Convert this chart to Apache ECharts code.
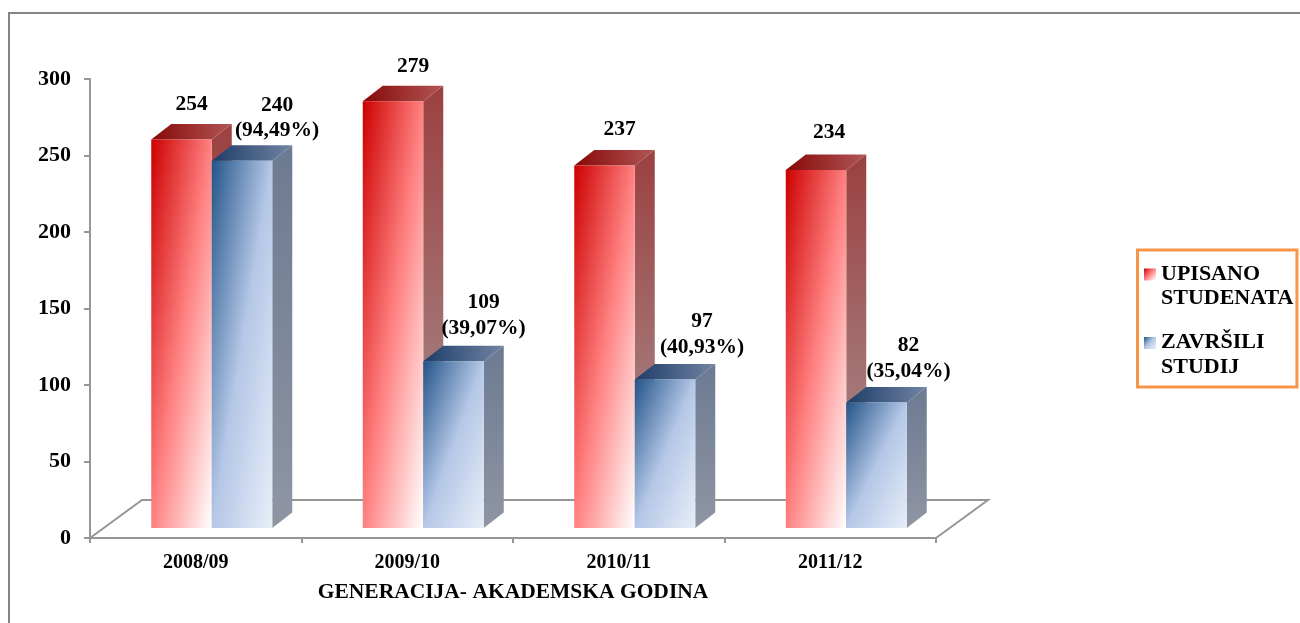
<!DOCTYPE html>
<html><head><meta charset="utf-8">
<style>html,body{margin:0;padding:0;background:#fff}#c{width:1300px;height:623px}</style>
<script src="https://cdn.jsdelivr.net/npm/echarts@6/dist/echarts.min.js"></script>
</head><body><div id="c"></div>
<script>
const categories = ['2008/09','2009/10','2010/11','2011/12'];
const upisano = [254,279,237,234];
const zavrsili = [240,109,97,82];
const zavrsiliPct = ['94,49%','39,07%','40,93%','35,04%'];
const yTicks = {min:0,max:300,interval:50};
const nameUpisano = 'UPISANO\nSTUDENATA';
const nameZavrsili = 'ZAVRŠILI\nSTUDIJ';
const axisTitle = 'GENERACIJA- AKADEMSKA GODINA';

// label nudges relative to the front face of each bar (hand placed in the source)
const redLabelNudge = [[10,-35],[20,-35],[15,-36],[13,-38]];
const blueLabelNudge = [[35,-56],[30,-59],[37,-58],[32,-57]];

const BAR_W=60.5, LIFT=10, DX=20, DY=15.5, FLOOR_DX=52, FLOOR_DY=38;
const FONT='"Liberation Serif"';
const GRAY='#969696';
const redFront=[[0,'#cc0000'],[0.5,'#ff8080'],[1,'#ffffff']];
const blueFront=[[0,'#235488'],[0.5,'#b4c7e7'],[1,'#e8eef8']];
const redTop=['#870808','#b25656'], blueTop=['#1d3d68','#7284a3'];
const redSide=['#9c4040','#a89696'], blueSide=['#6c7a92','#8f95a3'];

function stops(a){return a.map(s=>({offset:s[0],color:s[1]}));}
function grad(x,y,x2,y2,cs){return {type:'linear',x,y,x2,y2,global:true,colorStops:cs};}
function frontGrad(x,y,w,h,cs){
  const gx=0.5/w, gy=0.5/h, n=gx*gx+gy*gy;
  return grad(x,y,x+gx/n,y+gy/n,stops(cs));
}
function barRender(offset,front,top,side,nudge,textFn){
  return function(params,api){
    const i=params.dataIndex;
    const v=api.value(1), cat=api.value(0);
    const p=api.coord([cat,v]), b=api.coord([cat,0]);
    const x=p[0]+offset, w=BAR_W, y=p[1]-LIFT, y0=b[1]-LIFT, h=y0-y;
    const n=nudge[i];
    return {type:'group',children:[
      {type:'polygon',shape:{points:[[x+w,y],[x+w+DX,y-DY],[x+w+DX,y0-DY],[x+w,y0]]},
        style:{fill:grad(0,y-DY,0,y0,stops([[0,side[0]],[1,side[1]]]))}},
      {type:'polygon',shape:{points:[[x,y],[x+DX,y-DY],[x+w+DX,y-DY],[x+w,y]]},
        style:{fill:grad(x,0,x+w+DX,0,stops([[0,top[0]],[1,top[1]]]))}},
      {type:'rect',shape:{x,y,width:w,height:h},style:{fill:frontGrad(x,y,w,h,front)}},
      {type:'text',style:{text:textFn(i,v),x:x+w/2+n[0],y:y+n[1]-12.5,align:'center',verticalAlign:'top',
        font:'bold 21.5px '+FONT,lineHeight:25.5,fill:'#000'}}
    ]};
  };
}
function floorRender(params,api){
  const o=api.coord([0,0]), e=api.coord([categories.length-1,0]), s=api.size([1,0])[0];
  const x0=o[0]-s/2, x1=e[0]+s/2, y=o[1];
  return {type:'polyline',shape:{points:[[x0,y],[x0+FLOOR_DX,y-FLOOR_DY],[x1+FLOOR_DX,y-FLOOR_DY],[x1,y]]},
    style:{stroke:GRAY,lineWidth:2,fill:null}};
}
function legendIcon(){return 'path://M0 0h12v12h-12z M0 36h12v0h-12z';}

const chart=echarts.init(document.getElementById('c'),null,{renderer:'canvas'});
chart.setOption({
  animation:false,
  backgroundColor:'#fff',
  graphic:[
    {type:'polyline',silent:true,shape:{points:[[9,623],[9,13],[1300,13]]},style:{stroke:'#858585',lineWidth:2,fill:null}}
  ],
  grid:{left:90,right:364,top:79,bottom:85},
  xAxis:{type:'category',data:categories,
    axisLine:{lineStyle:{color:GRAY,width:2}},
    axisTick:{show:true,alignWithLabel:false,length:5,lineStyle:{color:GRAY,width:2}},
    axisLabel:{color:'#000',fontFamily:FONT,fontWeight:'bold',fontSize:20,margin:15},
    name:axisTitle,nameLocation:'middle',nameGap:43,
    nameTextStyle:{color:'#000',fontFamily:FONT,fontWeight:'bold',fontSize:21.5}},
  yAxis:{type:'value',min:yTicks.min,max:yTicks.max,interval:yTicks.interval,
    splitLine:{show:false},
    axisLine:{show:true,lineStyle:{color:GRAY,width:2}},
    axisTick:{show:true,length:6,lineStyle:{color:GRAY,width:2}},
    axisLabel:{color:'#000',fontFamily:FONT,fontWeight:'bold',fontSize:22,margin:19,padding:[2,0,0,0]}},
  legend:{
    orient:'vertical',left:1137.5,top:250,itemGap:19.5,itemWidth:12,itemHeight:36,
    padding:[12,3.5,7.5,6.5],borderColor:'#f79646',borderWidth:3,
    textStyle:{color:'#000',fontFamily:FONT,fontWeight:'bold',fontSize:22,lineHeight:24.5},
    selectedMode:false,
    data:[
      {name:nameUpisano,icon:legendIcon(),itemStyle:{color:{type:'linear',x:0,y:0,x2:1,y2:0.3,colorStops:stops(redFront)}}},
      {name:nameZavrsili,icon:legendIcon(),itemStyle:{color:{type:'linear',x:0,y:0,x2:1,y2:0.3,colorStops:stops(blueFront)}}}
    ]},
  series:[
    {type:'custom',name:'floor',silent:true,data:[[categories[0],0]],encode:{x:0,y:1},renderItem:floorRender,clip:false},
    {type:'custom',name:nameUpisano,silent:true,clip:false,encode:{x:0,y:1},
      data:categories.map((c,i)=>[c,upisano[i]]),
      renderItem:barRender(-44.5,redFront,redTop,redSide,redLabelNudge,(i,v)=>String(v))},
    {type:'custom',name:nameZavrsili,silent:true,clip:false,encode:{x:0,y:1},
      data:categories.map((c,i)=>[c,zavrsili[i]]),
      renderItem:barRender(16,blueFront,blueTop,blueSide,blueLabelNudge,(i,v)=>v+'\n('+zavrsiliPct[i]+')')}
  ]
});
</script></body></html>
